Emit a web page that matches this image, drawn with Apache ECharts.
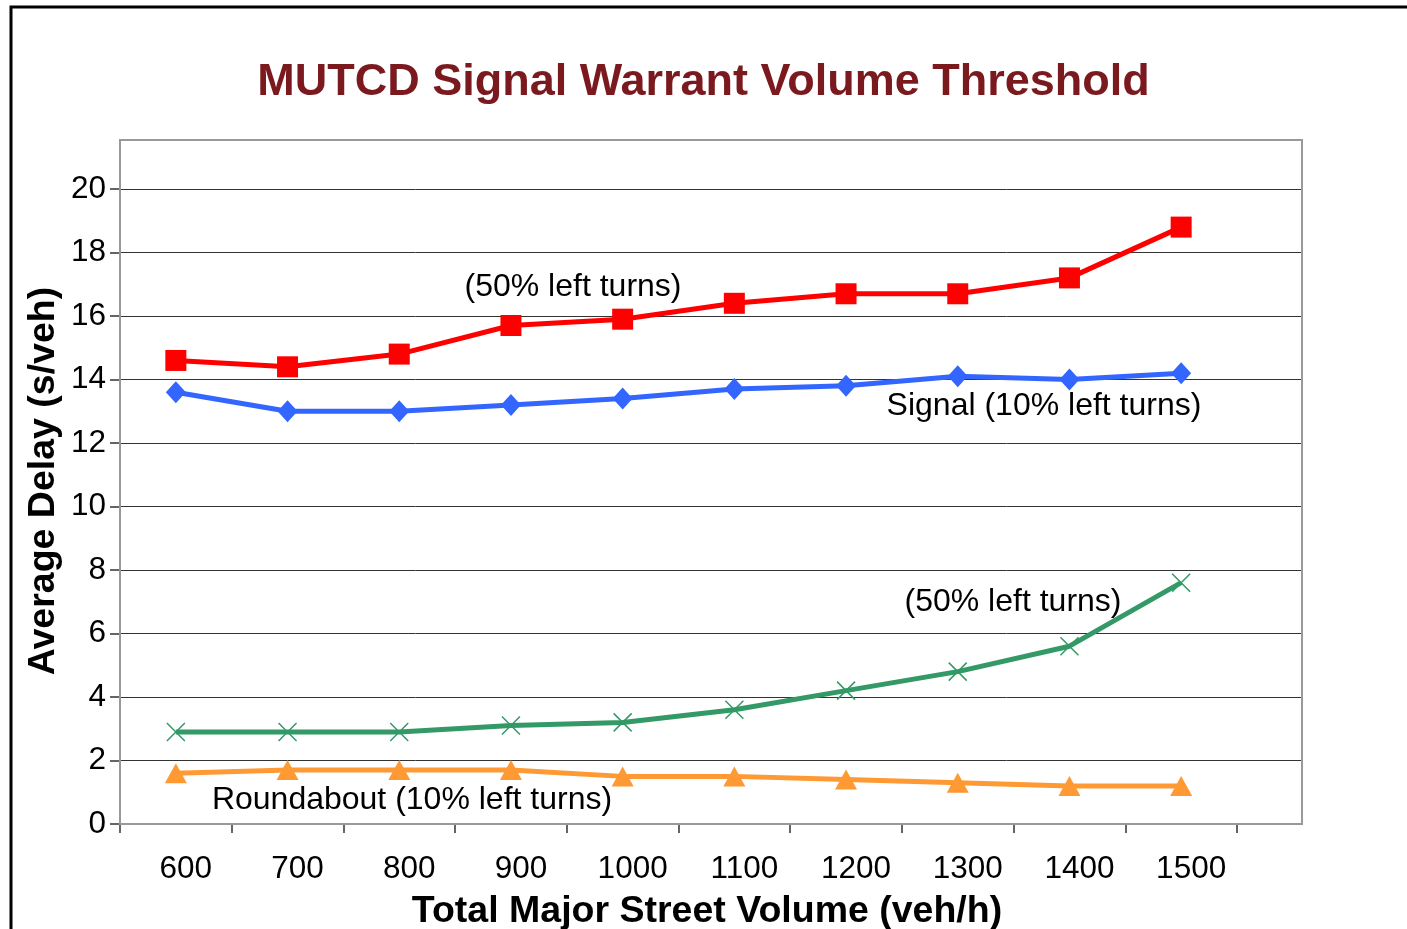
<!DOCTYPE html>
<html>
	<head>
		<meta charset="UTF-8">
		<script src="https://cdn.jsdelivr.net/npm/echarts@6/dist/echarts.min.js"></script>
		<style>
			html, body { margin: 0; padding: 0; background: #fff; }
			#chart { width: 1407px; height: 929px; }
		</style>
	</head>
	<body>
		<div id="chart"></div>
		<script type="text/javascript">
			// x categories (total major street volume)
			var volumes = ['600', '700', '800', '900', '1000', '1100', '1200', '1300', '1400', '1500'];
			// average delay (s/veh)
			var signal50 = [14.6, 14.4, 14.8, 15.7, 15.9, 16.4, 16.7, 16.7, 17.2, 18.8];
			var signal10 = [13.6, 13.0, 13.0, 13.2, 13.4, 13.7, 13.8, 14.1, 14.0, 14.2];
			var round50 = [2.9, 2.9, 2.9, 3.1, 3.2, 3.6, 4.2, 4.8, 5.6, 7.6];
			var round10 = [1.6, 1.7, 1.7, 1.7, 1.5, 1.5, 1.4, 1.3, 1.2, 1.2];

			var font = 'Liberation Sans, Arial, sans-serif';
			var myChart = echarts.init(document.getElementById('chart'));

			function lineSeries(data, color, symbol, size) {
				return {
					type: 'line',
					xAxisIndex: 1,
					yAxisIndex: 1,
					data: data,
					symbol: symbol,
					symbolSize: size,
					showAllSymbol: true,
					lineStyle: { color: color, width: 5 },
					itemStyle: { color: color, borderColor: color, borderWidth: symbol.indexOf('path') === 0 ? 1.5 : 0 },
					z: 3,
					animation: false
				};
			}

			// annotation text in the plot
			function note(text, x, y) {
				return {
					type: 'text',
					x: x,
					y: y,
					z: 10,
					style: {
						text: text,
						font: '32px ' + font,
						fill: '#000',
						textAlign: 'center',
						textVerticalAlign: 'middle'
					}
				};
			}

			var option = {
				backgroundColor: '#fff',
				animation: false,
				title: {
					text: 'MUTCD Signal Warrant Volume Threshold',
					left: 'center',
					top: 55,
					textStyle: { fontFamily: font, fontSize: 45, fontWeight: 'bold', color: '#7B1A1E' }
				},
				grid: [
					// full plot area: gridlines, y axis, bottom axis line
					{ left: 120, right: 105, top: 189, bottom: 105 },
					// data area: 10 category slots
					{ left: 120, width: 1117, top: 189, bottom: 105 }
				],
				xAxis: [{
					gridIndex: 0,
					type: 'value',
					min: 0,
					max: 1,
					axisLine: { show: true, lineStyle: { color: '#333', width: 2 } },
					axisTick: { show: false },
					axisLabel: { show: false },
					splitLine: { show: false }
				}, {
					gridIndex: 1,
					type: 'category',
					data: volumes,
					boundaryGap: true,
					axisLine: { show: false },
					axisTick: { show: true, length: 9, inside: false, lineStyle: { color: '#333', width: 1.5 } },
					axisLabel: {
						margin: 29,
						padding: [0, 0, 0, 20],
						fontFamily: font,
						fontSize: 31.5,
						color: '#000'
					},
					splitLine: { show: false }
				}],
				yAxis: [{
					gridIndex: 0,
					type: 'value',
					min: 0,
					max: 20,
					interval: 2,
					axisLine: { show: true, lineStyle: { color: '#555', width: 2 } },
					axisTick: { show: true, length: 10, lineStyle: { color: '#333', width: 1.5 } },
					axisLabel: { margin: 14, fontFamily: font, fontSize: 31.5, color: '#000' },
					splitLine: { show: true, lineStyle: { color: '#333', width: 1 } }
				}, {
					gridIndex: 1,
					type: 'value',
					min: 0,
					max: 20,
					show: false
				}],
				series: [
					lineSeries(signal50, '#FF0000', 'rect', 21),
					lineSeries(signal10, '#3366FF', 'diamond', [20, 22]),
					lineSeries(round50, '#339966', 'path://M0,0L10,10M10,0L0,10', 18),
					lineSeries(round10, '#FF9933', 'triangle', [22, 20])
				],
				graphic: [
					// outer frame of the figure
					{
						type: 'rect',
						shape: { x: 11, y: 7, width: 1420, height: 940 },
						style: { fill: 'none', stroke: '#000', lineWidth: 3 },
						z: 1
					},
					// plot area border (extends above the 20 line)
					{
						type: 'rect',
						shape: { x: 120, y: 140, width: 1182, height: 684 },
						style: { fill: 'none', stroke: '#999', lineWidth: 2 },
						z: 1
					},
					// axis titles, centred on the whole plot area
					{
						type: 'text',
						x: 44,
						y: 481,
						rotation: Math.PI / 2,
						style: {
							text: 'Average Delay (s/veh)',
							font: 'bold 37.5px ' + font,
							fill: '#000',
							textAlign: 'center',
							textVerticalAlign: 'middle'
						}
					},
					{
						type: 'text',
						x: 707,
						y: 912,
						style: {
							text: 'Total Major Street Volume (veh/h)',
							font: 'bold 37.5px ' + font,
							fill: '#000',
							textAlign: 'center',
							textVerticalAlign: 'middle'
						}
					},
					note('(50% left turns)', 573, 287),
					note('Signal (10% left turns)', 1044, 406),
					note('(50% left turns)', 1013, 602),
					note('Roundabout (10% left turns)', 412, 800)
				]
			};
			myChart.setOption(option);
		</script>
	</body>
</html>
